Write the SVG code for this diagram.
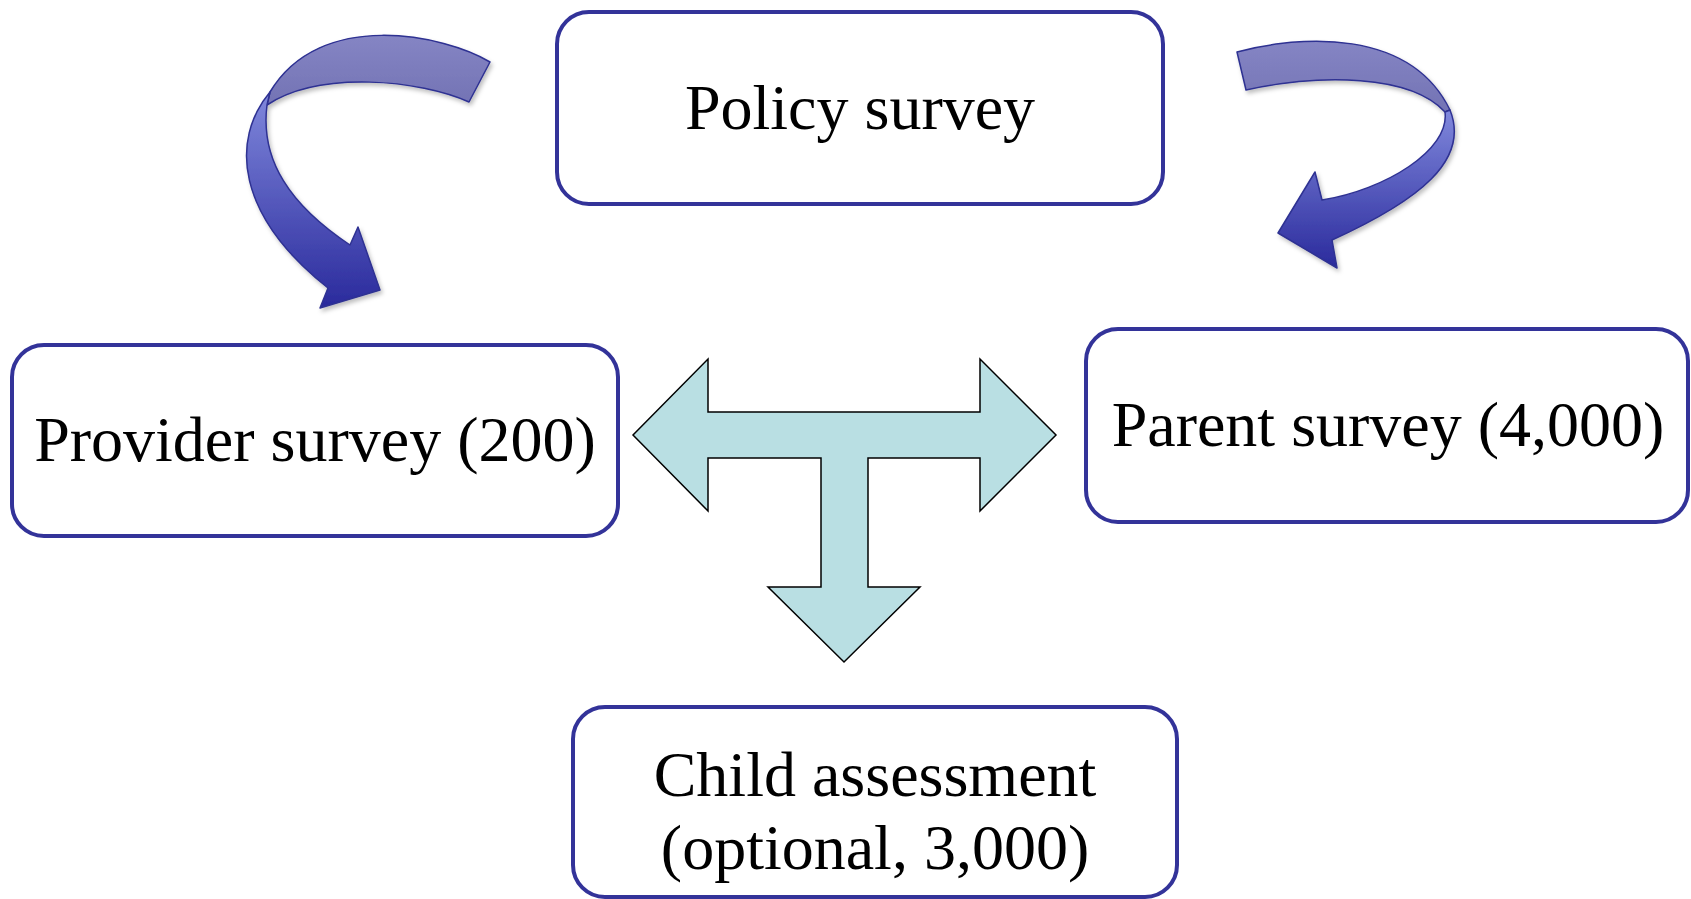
<svg xmlns="http://www.w3.org/2000/svg" width="1691" height="899" viewBox="0 0 1691 899">
<style>
.box{fill:#fff;stroke:#333399;stroke-width:4}
.lbl{font-family:"Liberation Serif","Times New Roman",serif;font-size:64px;fill:#000;text-anchor:middle}
.band{stroke:#2e3192;stroke-width:1.5;stroke-linejoin:round}
.tarrow{fill:#b9dfe3;stroke:#000;stroke-width:1.5;stroke-linejoin:miter}
</style>
<defs>
<linearGradient id="gL" x1="0" y1="0" x2="0" y2="1">
<stop offset="0" stop-color="#8088dc"/>
<stop offset="1" stop-color="#2a2a9c"/>
</linearGradient>
<linearGradient id="gU" x1="0" y1="0" x2="0" y2="1">
<stop offset="0" stop-color="#8585c4"/>
<stop offset="1" stop-color="#7373b4"/>
</linearGradient>
<filter id="sh" x="-20%" y="-20%" width="140%" height="140%">
<feDropShadow dx="2" dy="3" stdDeviation="2" flood-color="#000" flood-opacity="0.25"/>
</filter>
</defs>
<g id="connectors">
<g id="arrow-left" filter="url(#sh)">
<path class="band" fill="url(#gU)" d="M490,62 C445,35 320,8 270,92 L267,105 C320,70 420,80 469,102 Z"/>
<path class="band" fill="url(#gL)" d="M270,92 C230,140 236,215 328,288 L320,308 L380,290 L358,227 L350,245 C290,205 260,160 267,105 Z"/>
</g>
<g id="arrow-right" filter="url(#sh)">
<path class="band" fill="url(#gU)" d="M1237,52 C1300,35 1410,28 1450,110 L1445,112 C1410,74 1320,74 1246,90 Z"/>
<path class="band" fill="url(#gL)" d="M1450,110 C1470,160 1420,200 1332,240 L1337,268 L1278,233 L1315,172 L1322,200 C1385,190 1450,150 1445,112 Z"/>
</g>
<g id="t-arrow">
<path class="tarrow" d="M633,435 L708,359 L708,412 L980,412 L980,359 L1056,435 L980,511 L980,458 L868,458 L868,587 L920,587 L844,662 L768,587 L821,587 L821,458 L708,458 L708,511 Z"/>
</g>
</g>
<g id="node-policy">
<rect class="box" x="557" y="12" width="606" height="192" rx="32"/>
<text class="lbl" x="860" y="129">Policy survey</text>
</g>
<g id="node-provider">
<rect class="box" x="12" y="345" width="606" height="191" rx="32"/>
<text class="lbl" x="315" y="461">Provider survey (200)</text>
</g>
<g id="node-parent">
<rect class="box" x="1086" y="329" width="602" height="193" rx="32"/>
<text class="lbl" x="1388" y="446">Parent survey (4,000)</text>
</g>
<g id="node-child">
<rect class="box" x="573" y="707" width="604" height="190" rx="32"/>
<text class="lbl" x="875" y="796">Child assessment</text>
<text class="lbl" x="875" y="869">(optional, 3,000)</text>
</g>
</svg>
